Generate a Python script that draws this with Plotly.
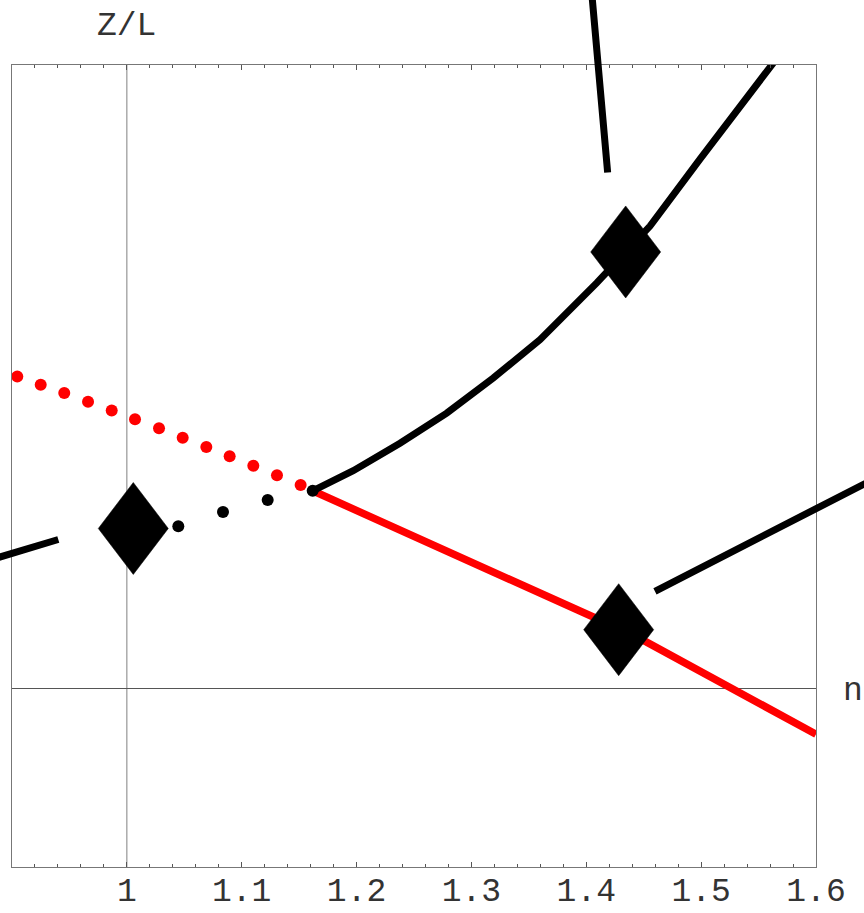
import plotly.graph_objects as go

# ---------------- data ----------------
X_RANGE = [0.9, 1.6]
Y_RANGE = [-0.2, 0.7]
AXES_ORIGIN_X = 1.0

TICK_VALUES = [1.0, 1.1, 1.2, 1.3, 1.4, 1.5, 1.6]
TICK_LABELS = ["1", "1.1", "1.2", "1.3", "1.4", "1.5", "1.6"]

# red dotted branch (dots)
red_dot_x = [0.9046, 0.9250, 0.9455, 0.9662, 0.9868, 1.0071, 1.0280,
             1.0486, 1.0692, 1.0895, 1.1101, 1.1307, 1.1513]
red_dot_y = [0.3505, 0.3411, 0.3318, 0.3220, 0.3122, 0.3025, 0.2924,
             0.2818, 0.2714, 0.2609, 0.2503, 0.2395, 0.2286]

# red solid branch
red_x = [1.1618, 1.2842, 1.4061, 1.4526, 1.5280, 1.6000]
red_y = [0.2222, 0.1518, 0.0805, 0.0523, 0.0000, -0.0510]

# black solid branch
black_x = [1.1618, 1.1971, 1.2378, 1.2785, 1.3190, 1.3597, 1.4091,
           1.4343, 1.4555, 1.4990, 1.5386, 1.5650]
black_y = [0.2222, 0.2447, 0.2755, 0.3093, 0.3487, 0.3918, 0.4555,
           0.4902, 0.5192, 0.5943, 0.6617, 0.7060]

# black dotted branch (dots), last one is the branch point
black_dot_x = [1.0448, 1.0837, 1.1226, 1.1618]
black_dot_y = [0.1825, 0.1983, 0.2118, 0.2222]

# diamond markers (centres)
diamond_x = [1.0056, 1.4343, 1.4282]
diamond_y = [0.1799, 0.4902, 0.0663]

# pointer lines: head (inside) and tail (outside the frame)
pointer_head_x = [1.4186, 1.4598, 0.9403]
pointer_head_y = [0.5793, 0.1094, 0.1675]
pointer_tail_x = [1.4029, 1.6731, 0.8634]
pointer_tail_y = [0.8080, 0.2504, 0.1378]

# ---------------- layout constants ----------------
W, H = 864, 913
M = dict(l=12, r=48, t=65, b=46)
PLOT_W = W - M["l"] - M["r"]
PLOT_H = H - M["t"] - M["b"]
DIAMOND_HALF_W_PX = 35
DIAMOND_HALF_H_PX = 46
FONT = "Liberation Mono, Courier New, monospace"
TEXT_COLOR = "#333333"

fig = go.Figure()

fig.add_trace(go.Scatter(x=red_dot_x, y=red_dot_y, mode="markers",
                         marker=dict(color="#ff0000", size=12), hoverinfo="skip"))
fig.add_trace(go.Scatter(x=red_x, y=red_y, mode="lines",
                         line=dict(color="#ff0000", width=7.5), hoverinfo="skip"))
fig.add_trace(go.Scatter(x=black_x, y=black_y, mode="lines",
                         line=dict(color="#000000", width=7), hoverinfo="skip"))
fig.add_trace(go.Scatter(x=black_dot_x, y=black_dot_y, mode="markers",
                         marker=dict(color="#000000", size=12), hoverinfo="skip"))

# diamonds as filled rhombi around the data centres
dx = DIAMOND_HALF_W_PX * (X_RANGE[1] - X_RANGE[0]) / PLOT_W
dy = DIAMOND_HALF_H_PX * (Y_RANGE[1] - Y_RANGE[0]) / PLOT_H
for cx, cy in zip(diamond_x, diamond_y):
    fig.add_trace(go.Scatter(
        x=[cx, cx + dx, cx, cx - dx, cx],
        y=[cy + dy, cy, cy - dy, cy, cy + dy],
        mode="lines", fill="toself", fillcolor="#000000",
        line=dict(color="#000000", width=0.5), hoverinfo="skip"))

# origin vertical axis line at x = 1
fig.add_shape(type="line", xref="x", yref="paper", x0=AXES_ORIGIN_X, x1=AXES_ORIGIN_X,
              y0=0, y1=1, line=dict(color="#808080", width=1), layer="below")

annotations = []
for hx, hy, tx, ty in zip(pointer_head_x, pointer_head_y, pointer_tail_x, pointer_tail_y):
    annotations.append(dict(x=hx, y=hy, xref="x", yref="y", ax=tx, ay=ty,
                            axref="x", ayref="y", text=" ", showarrow=True,
                            arrowhead=0, arrowwidth=7, arrowcolor="#000000",
                            standoff=0, startstandoff=0, font=dict(size=1)))
annotations.append(dict(x=AXES_ORIGIN_X, y=1.048, xref="x", yref="paper", text="Z/L",
                        showarrow=False, xanchor="center", yanchor="middle",
                        font=dict(family=FONT, size=33, color=TEXT_COLOR)))
annotations.append(dict(x=1.046, y=0, xref="paper", yref="y", text="n",
                        showarrow=False, xanchor="center", yanchor="middle", yshift=-3,
                        font=dict(family=FONT, size=33, color=TEXT_COLOR)))

fig.update_layout(
    width=W, height=H, margin=M,
    paper_bgcolor="white", plot_bgcolor="white",
    showlegend=False, annotations=annotations,
    xaxis=dict(range=X_RANGE, tickvals=TICK_VALUES, ticktext=TICK_LABELS,
               automargin=False, ticklabelstandoff=-7,
               ticks="inside", ticklen=5, tickwidth=1, tickcolor="#555555",
               minor=dict(dtick=0.02, ticks="inside", ticklen=3, tickcolor="#555555",
                          showgrid=False),
               showline=True, linecolor="#777777", linewidth=1, mirror="allticks",
               showgrid=False, zeroline=False,
               tickfont=dict(family=FONT, size=33, color=TEXT_COLOR)),
    yaxis=dict(range=Y_RANGE, showticklabels=False, ticks="", automargin=False,
               showline=True, linecolor="#777777", linewidth=1, mirror=True,
               showgrid=False, zeroline=True, zerolinecolor="#555555", zerolinewidth=1),
)

fig.write_html("out.html", config={"displayModeBar": False},
               post_script="document.body.style.margin='0';document.body.style.padding='0';")
